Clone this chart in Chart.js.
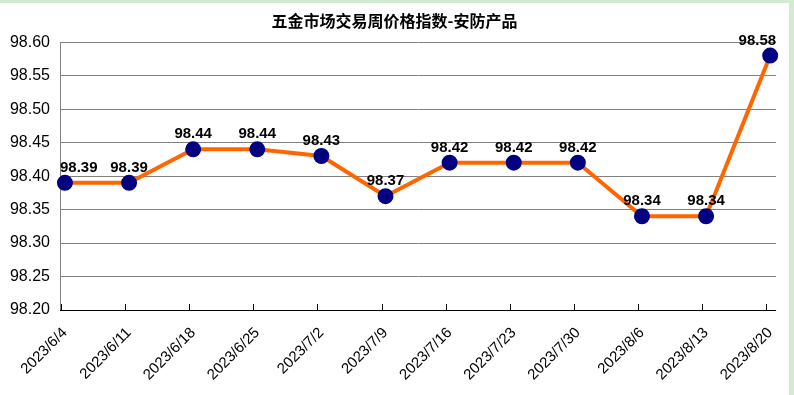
<!DOCTYPE html>
<html>
<head>
<meta charset="utf-8">
<script src="https://cdn.jsdelivr.net/npm/chart.js@4/dist/chart.umd.min.js"></script>
<style>
  html, body { margin: 0; padding: 0; }
  body { width: 794px; height: 395px; background: #d3ebd3; position: relative; overflow: hidden; }
  #wrap { position: absolute; left: 0; top: 3px; width: 789px; height: 392px; background: #ffffff; }
  canvas { display: block; }
</style>
</head>
<body>
<div id="wrap"><canvas id="c" width="789" height="392"></canvas></div>
<script>
const titleText = '五金市场交易周价格指数-安防产品';
const categories = ['2023/6/4','2023/6/11','2023/6/18','2023/6/25','2023/7/2','2023/7/9','2023/7/16','2023/7/23','2023/7/30','2023/8/6','2023/8/13','2023/8/20'];
const values = [98.39, 98.39, 98.44, 98.44, 98.43, 98.37, 98.42, 98.42, 98.42, 98.34, 98.34, 98.58];
const yTicks = [98.20, 98.25, 98.30, 98.35, 98.40, 98.45, 98.50, 98.55, 98.60];

const points = values.map((v, i) => ({ x: i, y: v }));

const valueLabels = {
  id: 'valueLabels',
  afterDatasetsDraw(chart) {
    const ctx = chart.ctx;
    const meta = chart.getDatasetMeta(0);
    const area = chart.chartArea;
    ctx.save();
    ctx.font = 'bold 15px "Liberation Sans", Arial, sans-serif';
    ctx.fillStyle = '#000000';
    ctx.textAlign = 'center';
    ctx.textBaseline = 'alphabetic';
    meta.data.forEach((pt, i) => {
      const txt = values[i].toFixed(2);
      const w = ctx.measureText(txt).width;
      let x = pt.x;
      x = Math.max(area.left + w / 2, Math.min(area.right - w / 2, x));
      ctx.fillText(txt, x, pt.y - 11);
    });
    ctx.restore();
  }
};

const xTickMarks = {
  id: 'xTickMarks',
  afterDraw(chart) {
    const ctx = chart.ctx;
    const xs = chart.scales.x;
    const area = chart.chartArea;
    ctx.save();
    ctx.strokeStyle = '#000000';
    ctx.lineWidth = 1;
    ctx.beginPath();
    categories.forEach((c, i) => {
      const px = Math.round(xs.getPixelForValue(i) - 4) + 0.5;
      ctx.moveTo(px, area.bottom);
      ctx.lineTo(px, area.bottom - 6);
    });
    ctx.stroke();
    ctx.beginPath();
    ctx.moveTo(area.left, Math.round(area.bottom) + 0.5);
    ctx.lineTo(area.right, Math.round(area.bottom) + 0.5);
    ctx.stroke();
    ctx.restore();
  }
};

new Chart(document.getElementById('c'), {
  type: 'line',
  data: {
    datasets: [{
      data: points,
      borderColor: '#ff6600',
      borderWidth: 4,
      backgroundColor: '#000080',
      pointBackgroundColor: '#000080',
      pointBorderColor: '#000080',
      pointRadius: 6,
      pointHoverRadius: 6,
      tension: 0,
      clip: false
    }]
  },
  options: {
    responsive: false,
    animation: false,
    events: [],
    layout: { padding: { left: 0, right: 0, top: 0, bottom: 0 } },
    plugins: {
      legend: { display: false },
      tooltip: { enabled: false },
      title: {
        display: true,
        text: titleText,
        color: '#000000',
        font: { family: '"Noto Sans CJK SC", sans-serif', size: 16, weight: 'bold', lineHeight: 1.2 },
        padding: { top: 8, bottom: 12 }
      }
    },
    scales: {
      x: {
        type: 'linear',
        min: -0.077,
        max: 11.092,
        afterBuildTicks(scale) { scale.ticks = categories.map((c, i) => ({ value: i })); },
        afterFit(scale) { scale.height = 85; },
        grid: { display: false },
        border: { display: false },
        ticks: {
          autoSkip: false,
          maxRotation: 45,
          minRotation: 45,
          padding: 6,
          color: '#000000',
          font: { family: '"Liberation Sans", Arial, sans-serif', size: 15 },
          callback: (v) => categories[v]
        }
      },
      y: {
        min: 98.2,
        max: 98.6,
        afterBuildTicks(scale) { scale.ticks = yTicks.map(v => ({ value: v })); },
        afterFit(scale) { scale.width = 60; },
        grid: {
          color: (c) => (c.tick && Math.abs(c.tick.value - 98.2) < 1e-6) ? 'rgba(0,0,0,0)' : '#808080',
          lineWidth: 1,
          drawTicks: false
        },
        border: { display: true, color: '#808080', width: 1 },
        ticks: {
          padding: 10,
          color: '#000000',
          font: { family: '"Liberation Sans", Arial, sans-serif', size: 16 },
          callback: (v) => Number(v).toFixed(2)
        }
      }
    }
  },
  plugins: [valueLabels, xTickMarks]
});
</script>
</body>
</html>
